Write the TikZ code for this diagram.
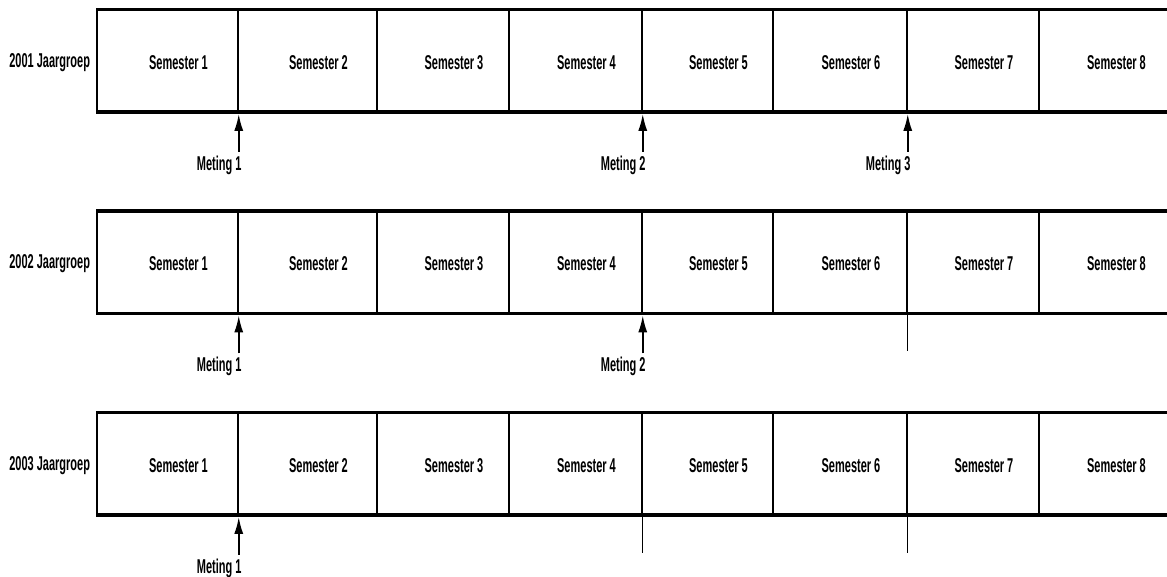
\documentclass[tikz,border=0pt]{standalone}
\usepackage{fontspec}
\setmainfont{Liberation Sans}[FakeStretch=0.55]
\usepackage{tikz}
\usetikzlibrary{arrows.meta,positioning}

\tikzset{
  semester/.style={draw, line width=1.5pt, minimum height=101pt, inner sep=0pt},
  tekst/.style={font=\fontsize{20}{22}\selectfont\bfseries, inner sep=0pt},
  rand/.style={line width=3.5pt},
  meting/.style={line width=2pt, -{Latex[length=17pt,width=9pt]}},
  lijn/.style={line width=1pt}
}

\begin{document}
\begin{tikzpicture}[x=1pt, y=-1pt]
        % Kader van het plaatje
        \useasboundingbox (0,0) rectangle (1167,576);

        % Jaargroepen met 8 semesters
        \foreach \r/\jaar/\ym in {1/2001/60.5, 2/2002/262, 3/2003/463.5} {
          \foreach \a/\b [count=\i] in {97/238, 238/377, 377/509, 509/642, 642/773, 773/907, 907/1039, 1039/1172} {
            \node[semester, minimum width={(\b-\a)*1pt},
                  label={[tekst, xshift=11pt, yshift=-2pt]center:Semester \i}] (s\r\i) at ({(\a+\b)/2}, \ym) {};
          }
          \draw[rand] (s\r1.north west) -- (s\r8.north east);
          \draw[rand] (s\r1.south west) -- (s\r8.south east);
          \node[tekst, left=6pt of s\r1, yshift=-2pt] (j\r) {\jaar{} Jaargroep};
        }

        % Metingen
        \foreach \r/\i/\n in {1/1/1, 1/4/2, 1/6/3, 2/1/1, 2/4/2, 3/1/1} {
          \coordinate (m\r\n) at ([yshift=-40pt]s\r\i.south east);
          \draw[meting] (m\r\n) -- ([yshift=-2pt]s\r\i.south east);
          \node[tekst, anchor=north east] (l\r\n) at ([xshift=3pt, yshift=-4pt]m\r\n) {Meting \n};
        }

        % Lijnen zonder meting
        \foreach \r/\i in {2/6, 3/4, 3/6} {
          \coordinate (e\r\i) at ([yshift=-38pt]s\r\i.south east);
          \draw[lijn] (s\r\i.south east) -- (e\r\i);
        }
    \end{tikzpicture}
\end{document}
